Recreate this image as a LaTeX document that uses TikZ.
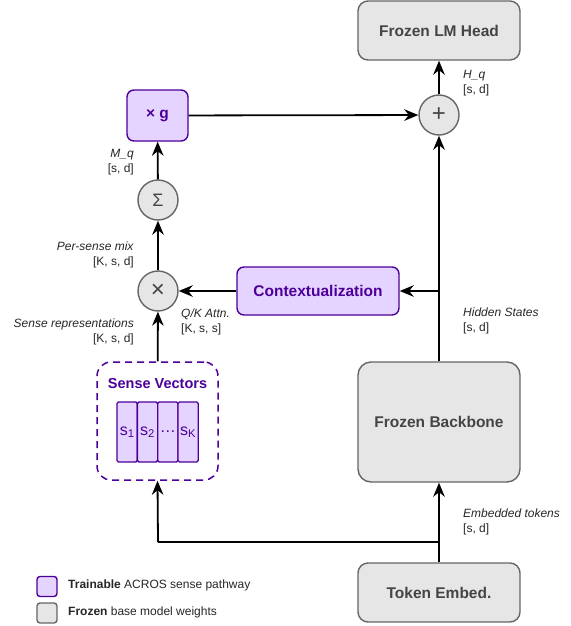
\documentclass[tikz,border=0pt]{standalone}
\usepackage{fontspec}
\setmainfont{Liberation Sans}
\usetikzlibrary{arrows.meta}
\definecolor{tfill}{HTML}{E5D4FF}
\definecolor{tdraw}{HTML}{4C0099}
\definecolor{gfill}{HTML}{E6E6E6}
\definecolor{gdraw}{HTML}{666666}
\definecolor{gtext}{HTML}{444444}
\tikzset{
  trainbox/.style={draw=tdraw, fill=tfill, line width=1.4pt, rounded corners=7pt, text=tdraw,
    font=\fontsize{15.5}{17}\selectfont\bfseries, inner sep=0pt},
  frozbox/.style={draw=gdraw, fill=gfill, line width=1.4pt, rounded corners=10pt, text=gtext,
    font=\fontsize{15.5}{17}\selectfont\bfseries, inner sep=0pt, minimum width=162pt},
  opcirc/.style={circle, draw=gdraw, fill=gfill, line width=1.4pt, minimum size=40pt, inner sep=0pt,
    text=gtext, font=\fontsize{24}{24}\selectfont},
  cell/.style={draw=tdraw, fill=tfill, line width=1.3pt, minimum width=20.3pt, minimum height=60pt,
    inner sep=0pt, text=tdraw, font=\fontsize{16}{16}\selectfont, rounded corners=1.5pt},
  lbl/.style={font=\fontsize{12}{14.5}\selectfont, text=black!85, inner sep=0pt},
  conn/.style={line width=1.8pt, -{Stealth[length=14pt,width=11.5pt,inset=4.5pt]}},
  plain/.style={line width=1.8pt},
  legsq/.style={rounded corners=3pt, line width=1.4pt, minimum size=20pt, inner sep=0pt},
  legtxt/.style={font=\fontsize{12}{13}\selectfont, text=black!85, inner sep=0pt, anchor=west}
}
\begin{document}
\begin{tikzpicture}[x=1pt,y=-1pt]
\useasboundingbox (0,0) rectangle (570,626);
% frozen boxes
\node[frozbox, minimum height=59pt] (head) at (439,30.5) {Frozen LM Head};
\node[frozbox, minimum height=120pt, rounded corners=13pt] (bb) at (439,422) {Frozen Backbone};
\node[frozbox, minimum height=59pt] (emb) at (439,592.5) {Token Embed.};
% operators
\node[opcirc] (plus) at (439,115) {+};
\node[opcirc, font=\fontsize{18}{18}\selectfont] (sum) at (158,200) {Σ};
\node[opcirc] (mul) at (158,291) {×};
% trainable
\node[trainbox, minimum width=61pt, minimum height=51pt] (g) at (157.5,115.5) {× g};
\node[trainbox, minimum width=162pt, minimum height=48pt] (ctx) at (318,291) {Contextualization};
% sense vectors
\node[draw=tdraw, dashed, dash pattern=on 7pt off 5pt, line width=1.5pt, rounded corners=14pt,
  minimum width=121pt, minimum height=118pt, inner sep=0pt] (sv) at (157.5,421) {};
\node[text=tdraw, font=\fontsize{14.5}{16}\selectfont\bfseries, inner sep=0pt] (svt) at (157.5,383.5) {Sense Vectors};
\node[cell] (c1) at (127.2,432) {s\textsubscript{1}};
\node[cell] (c2) at (147.5,432) {s\textsubscript{2}};
\node[cell] (c3) at (167.8,432) {…};
\node[cell] (c4) at (188.1,432) {s\textsubscript{K}};
% connectors
\draw[conn] (plus) -- (head);
\draw[conn] (bb) -- (plus);
\draw[conn] (g) -- (plus);
\coordinate (hb) at (439,291);
\draw[conn] (hb) -- (ctx);
\draw[conn] (ctx) -- (mul);
\draw[conn] (mul) -- (sum);
\draw[conn] (sum) -- (g);
\draw[conn] (sv) -- (mul);
\draw[conn] (emb) -- (bb);
\coordinate (eb) at (439,542);
\coordinate (ec) at (158,542);
\draw[plain] (eb) -- (ec);
\draw[conn] (ec) -- (sv.south);
% labels
\node[lbl, anchor=west, align=left] (lh) at (463,83) {\textit{H\_q}\\{[s, d]}};
\node[lbl, anchor=east, align=right] (lm) at (134,162) {\textit{M\_q}\\{[s, d]}};
\node[lbl, anchor=east, align=right] (lp) at (134,255) {\textit{Per-sense mix}\\{[K, s, d]}};
\node[lbl, anchor=east, align=right] (ls) at (134,332) {\textit{Sense representations}\\{[K, s, d]}};
\node[lbl, anchor=west, align=left] (lq) at (181,322) {\textit{Q/K Attn.}\\{[K, s, s]}};
\node[lbl, anchor=west, align=left] (lhs) at (463,321) {\textit{Hidden States}\\{[s, d]}};
\node[lbl, anchor=west, align=left] (le) at (463,522) {\textit{Embedded tokens}\\{[s, d]}};
% legend
\node[legsq, draw=tdraw, fill=tfill] (lg1) at (47,586.5) {};
\node[legsq, draw=gdraw, fill=gfill] (lg2) at (47,613) {};
\node[legtxt] (lt1) at (68,585) {\textbf{Trainable} ACROS sense pathway};
\node[legtxt] (lt2) at (68,612) {\textbf{Frozen} base model weights};
\end{tikzpicture}
\end{document}
